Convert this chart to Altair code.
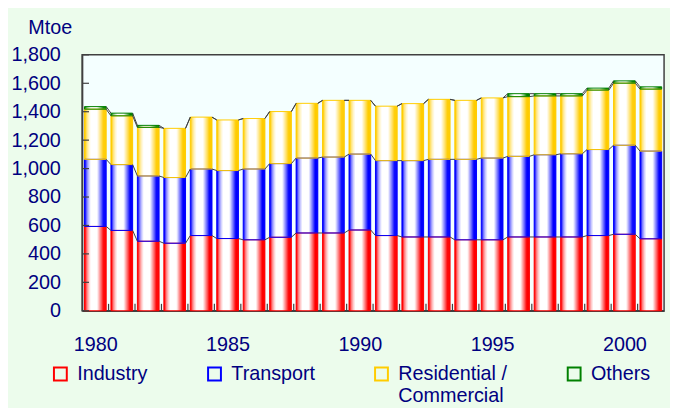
import altair as alt
import pandas as pd

years = list(range(1980, 2002))
industry = [593, 565, 489, 475, 529, 508, 499, 517, 547, 547, 568, 529, 519, 519, 499, 499, 519, 519, 519, 529, 538, 506]
transport = [472, 463, 459, 462, 468, 478, 498, 518, 527, 534, 534, 527, 537, 546, 566, 575, 567, 578, 585, 605, 626, 617]
residential = [353, 343, 342, 346, 365, 356, 355, 366, 385, 399, 378, 383, 401, 422, 415, 423, 420, 414, 407, 418, 437, 436]
others = [18, 19, 14, 0, 0, 0, 0, 0, 0, 0, 0, 0, 0, 0, 0, 0, 21, 16, 16, 14, 16, 16]

series_names = ["Industry", "Transport", "Residential / Commercial", "Others"]
strong_rgb = [(255, 0, 0), (0, 0, 255), (255, 204, 0), (0, 128, 0)]
y_ticks = [0, 200, 400, 600, 800, 1000, 1200, 1400, 1600, 1800]
x_labels = [1980, 1985, 1990, 1995, 2000]

# shading across each bar (0 = full colour, 1 = white), left to right
shade = [0, 0.25, 0.5, 0.65, 0.8, 0.9, 1, 1, 1, 1, 1, 1, 1, 0.9, 0.75, 0.6, 0.45, 0.3, 0.12, 0, 0, 0]
NS = len(shade)
BAR_HALF = 0.41

TEXT = "#000080"
FONT = "Liberation Sans"
FS = 20


def hexc(rgb):
    return "#%02X%02X%02X" % tuple(int(round(v)) for v in rgb)


def mix(rgb, t):
    return hexc([c + (255 - c) * t for c in rgb])


strong = [hexc(c) for c in strong_rgb]

rows = []
for i, yr in enumerate(years):
    for k, vals in enumerate([industry, transport, residential, others]):
        rows.append({"year": yr, "series": series_names[k], "order": k, "value": vals[i]})
df = pd.DataFrame(rows)

srows = []
for r in rows:
    k = r["order"]
    for j, t in enumerate(shade):
        srows.append({**r, "j": j, "c": mix(strong_rgb[k], t)})
sdf = pd.DataFrame(srows)

xs = alt.Scale(domain=[years[0] - 0.5, years[-1] + 0.5], nice=False, zero=False)
ys = alt.Scale(domain=[0, 1800], nice=False)

xaxis = alt.Axis(values=x_labels, format="d", title=None, ticks=False, labelPadding=24,
                 domainColor="#404040", domainWidth=1.5, grid=False)
yaxis = alt.Axis(values=y_ticks, format=",d", title="Mtoe", titleAngle=0, titleAlign="left",
                 titleX=-55, titleY=-28, titleBaseline="middle", titleFontWeight="normal",
                 titleFontSize=FS, titleColor=TEXT, titleFont=FONT,
                 ticks=False, labelPadding=22, domainColor="#404040", domainWidth=1.5, grid=False)

stack_kw = dict(stack="value", sort=[alt.SortField("order")], as_=["y0", "y1"])

base = alt.Chart(df).transform_stack(groupby=["year"], **stack_kw).transform_calculate(
    xa=f"datum.year - {BAR_HALF}", xb=f"datum.year + {BAR_HALF}"
)

X = alt.X("xa:Q", scale=xs, axis=xaxis)
Y = alt.Y("y1:Q", scale=ys, axis=yaxis)

leg = alt.Legend(title=None, orient="none", legendX=-32, legendY=313, direction="horizontal",
                 columns=4, columnPadding=56, symbolType="square", symbolSize=169,
                 symbolStrokeWidth=2, symbolFillColor="#FFFFFF", symbolOpacity=1,
                 labelFont=FONT, labelFontSize=FS, labelColor=TEXT,
                 labelOffset=7, labelLimit=300,
                 labelExpr="datum.label == 'Residential / Commercial' ? ['Residential /', 'Commercial'] : [datum.label, '']")

w = 2 * BAR_HALF / NS
stripes = alt.Chart(sdf).transform_stack(groupby=["year", "j"], **stack_kw).transform_filter(
    "datum.value > 0"
).transform_calculate(
    xa=f"datum.year - {BAR_HALF} + datum.j * {w}",
    xb=f"min(datum.year - {BAR_HALF} + (datum.j + 1.6) * {w}, datum.year + {BAR_HALF})",
).mark_bar(strokeWidth=0).encode(
    x=X, x2="xb:Q", y=Y, y2="y0:Q", color=alt.Color("c:N", scale=None, legend=None),
)

outline = base.transform_filter("datum.value > 0").mark_bar(fill="transparent", strokeWidth=1).encode(
    x=X, x2="xb:Q", y=Y, y2="y0:Q",
    stroke=alt.Stroke("series:N", scale=alt.Scale(domain=series_names, range=strong), legend=leg),
)

series_lines = base.transform_window(
    ny1="lead(y1)", groupby=["series"], sort=[alt.SortField("year")]
).transform_filter("datum.ny1 != null").transform_calculate(
    xc=f"datum.year + 1 - {BAR_HALF}"
).mark_rule(color="#404040", strokeWidth=1).encode(
    x=alt.X("xb:Q", scale=xs, axis=xaxis), x2="xc:Q",
    y=Y, y2="ny1:Q",
)

ytick_layer = alt.Chart(pd.DataFrame({"t": y_ticks})).mark_rule(color="#404040", strokeWidth=1.2).encode(
    y=alt.Y("t:Q", scale=ys, axis=yaxis), x=alt.value(0), x2=alt.value(7)
)
bounds = [yr + 0.5 for yr in years[:-1]]
xtick_layer = alt.Chart(pd.DataFrame({"b": bounds})).mark_rule(color="#404040", strokeWidth=1.2).encode(
    x=alt.X("b:Q", scale=xs, axis=xaxis), y=alt.value(259), y2=alt.value(252)
)

chart = alt.layer(stripes, outline, series_lines, ytick_layer, xtick_layer).properties(
    width=589, height=259,
    padding={"left": 75, "top": 45, "right": 6, "bottom": 96},
    autosize=alt.AutoSizeParams(type="none"),
    background="#ECFCEC",
).configure_view(
    fill="#F4FFFF", stroke="#404040", strokeWidth=1.5
).configure_axis(
    labelFont=FONT, labelFontSize=FS, labelColor=TEXT
)

chart.save("out.html", embed_options={"renderer": "svg", "actions": False})
